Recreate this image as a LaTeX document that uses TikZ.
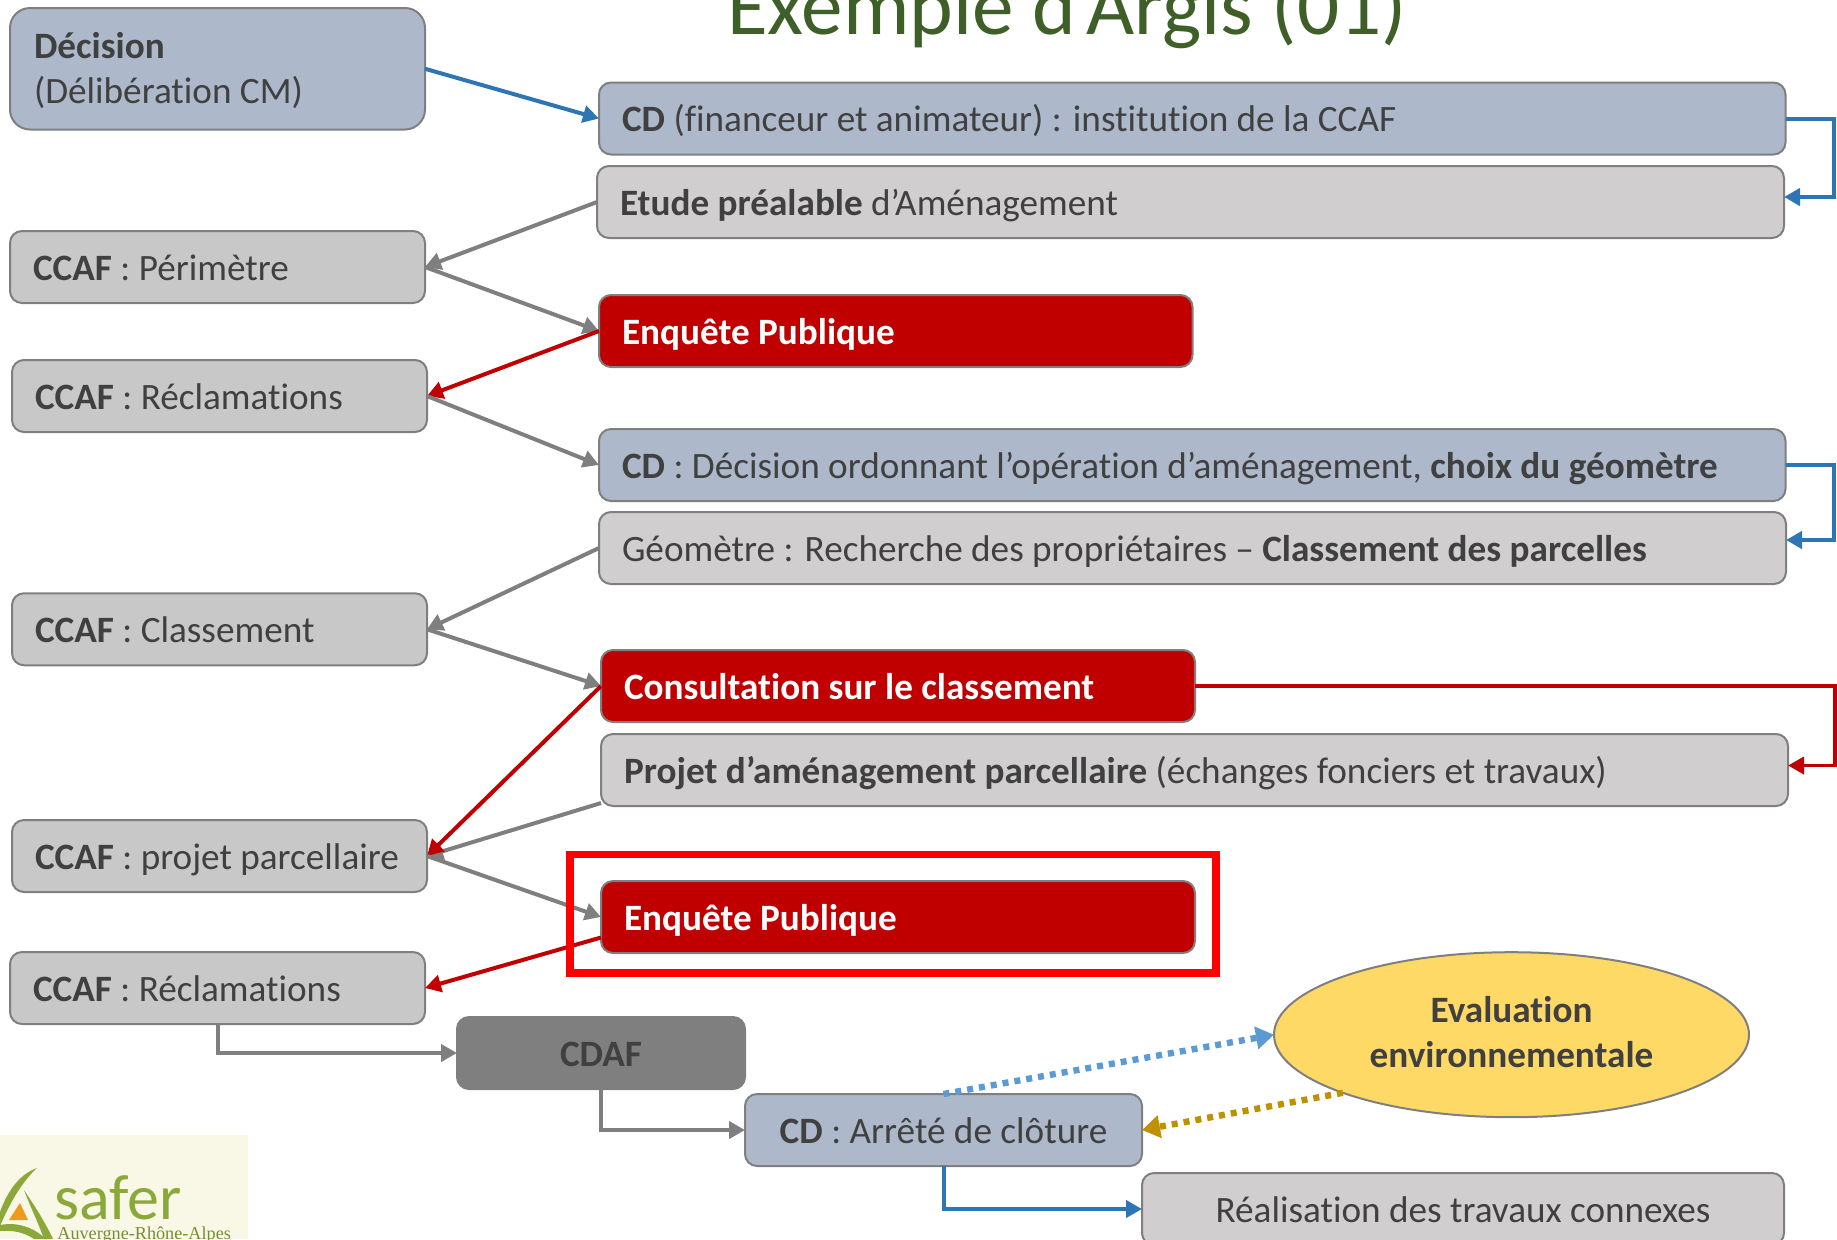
\documentclass[tikz,border=0pt]{standalone}
\usepackage{fontspec}
\setmainfont[Ligatures=NoCommon]{Carlito}
\newfontfamily\logofont{Liberation Serif}
\newfontfamily\logosans[Ligatures=NoCommon]{Carlito}
\usetikzlibrary{arrows.meta,shapes.geometric,calc}
\definecolor{txt}{HTML}{404040}
\definecolor{bluebox}{HTML}{ADB9CA}
\definecolor{greybox}{HTML}{C8C8C8}
\definecolor{greyboxb}{HTML}{D0CECE}
\definecolor{redbox}{HTML}{C00000}
\definecolor{edge}{HTML}{7F7F7F}
\definecolor{bluearrow}{HTML}{2E75B6}
\definecolor{dotblue}{HTML}{5B9BD5}
\definecolor{gold}{HTML}{BF9000}
\definecolor{yellowell}{HTML}{FFD966}
\definecolor{titlegreen}{HTML}{3F5F28}
\definecolor{logobg}{HTML}{F9F7E5}
\definecolor{logogreen}{HTML}{8BA83A}
\definecolor{logoorange}{HTML}{EE9A1E}
\newcommand\st{\rule[-4.5pt]{0pt}{22pt}}
\newcommand\boxfont{\fontsize{18.6}{22.7}\selectfont}
\newcommand\titlefont{\fontsize{41.6}{44}\selectfont}
\tikzset{
  basebox/.style={rectangle,draw=edge,line width=1pt,rounded corners=6pt,inner ysep=0pt,inner xsep=11.5pt,outer sep=0pt,
    minimum height=36pt,align=flush left,text=txt,font=\boxfont},
  bluefill/.style={basebox,fill=bluebox},
  greyfill/.style={basebox,fill=greybox},
  greyfillb/.style={basebox,fill=greyboxb},
  redfill/.style={basebox,fill=redbox,text=white},
  conn/.style={line width=2pt,-{Triangle[length=8pt,width=8.5pt]}},
  greyconn/.style={conn,draw=edge},
  redconn/.style={conn,draw=redbox},
  blueconn/.style={conn,draw=bluearrow},
  dotconn/.style={line width=3.2pt,dash pattern=on 3pt off 3pt,-{Triangle[length=9pt,width=11pt]}}
}
\begin{document}
\begin{tikzpicture}[x=0.5pt,y=-0.5pt]
\useasboundingbox (0,0) rectangle (1837,1239);
\clip (0,0) rectangle (1837,1239);
% logo
\fill[logobg] (0,1135) rectangle (248,1239);
\fill[logogreen] (0,1212) .. controls (8,1190) and (20,1174) .. (37,1168) .. controls (24,1180) and (12,1198) .. (0,1226) -- cycle;
\fill[logogreen] (24,1190) .. controls (34,1205) and (44,1220) .. (53,1239) -- (44,1239) .. controls (38,1222) and (30,1206) .. (24,1190) -- cycle;
\fill[logogreen] (0,1225) .. controls (16,1222) and (32,1226) .. (46,1239) -- (34,1239) .. controls (24,1232) and (12,1230) .. (0,1231) -- cycle;
\fill[logoorange] (9,1220) -- (20,1203) -- (28,1220) -- cycle;
\node[anchor=base west,inner sep=0pt,text=logogreen,font=\logosans\fontsize{32}{32}\selectfont] (logoa) at (54,1219) {safer};
\node[anchor=base west,inner sep=0pt,text=logogreen!85!black,font=\logofont\fontsize{9.1}{10}\selectfont] (logob) at (57,1239) {Auvergne-Rhône-Alpes};
% title
\node[anchor=base,inner sep=0pt,text=titlegreen,font=\titlefont] (title) at (1067,34) {Exemple d’Argis (01)};
% boxes
\node[bluefill,text width=183.5pt,inner xsep=12pt,minimum height=60.75pt,rounded corners=10pt] (dec) at (217.5,68.75) {\st\textbf{Décision}\\\rule[-5.5pt]{0pt}{23pt}(Délibération CM)};
\node[bluefill,text width=570.25pt] (cd1) at (1192.25,118.5) {\st\textbf{CD} (financeur et animateur) : institution de la CCAF};
\node[greyfillb,text width=570.5pt] (etu) at (1190.5,202) {\st\textbf{Etude préalable} d’Aménagement};
\node[greyfill,text width=184.5pt] (per) at (217.5,267) {\st\textbf{CCAF} : Périmètre};
\node[redfill,text width=273.75pt] (enqa) at (895.75,331) {\st\textbf{Enquête Publique}};
\node[greyfill,text width=184.5pt] (reca) at (219.5,396) {\st\textbf{CCAF} : Réclamations};
\node[bluefill,text width=570.25pt] (cd2) at (1192.25,465) {\st\textbf{CD} : Décision ordonnant l’opération d’aménagement, \textbf{choix du géomètre}};
\node[greyfillb,text width=570.5pt] (geo) at (1192.5,548) {\st Géomètre : Recherche des propriétaires – \textbf{Classement des parcelles}};
\node[greyfill,text width=184.5pt] (cla) at (219.5,629.25) {\st\textbf{CCAF} : Classement};
\node[redfill,text width=274pt] (con) at (898,686) {\st\textbf{Consultation sur le classement}};
\node[greyfillb,text width=570.5pt] (pro) at (1194.5,770) {\st\textbf{Projet d’aménagement parcellaire} (échanges fonciers et travaux)};
\node[greyfill,text width=184.5pt] (prp) at (219.5,856) {\st\textbf{CCAF} : projet parcellaire};
\node[redfill,text width=274pt] (enqb) at (898,917) {\st\textbf{Enquête Publique}};
\node[greyfill,text width=184.5pt] (recb) at (217.5,988) {\st\textbf{CCAF} : Réclamations};
\node[basebox,fill=edge,text width=121pt,align=flush center] (cdaf) at (601,1053) {\st\textbf{CDAF}};
\node[bluefill,text width=175.5pt,align=flush center] (cd3) at (943.5,1130) {\st\textbf{CD} : Arrêté de clôture};
\node[greyfillb,text width=298pt,align=flush center] (rea) at (1463,1209) {\st Réalisation des travaux connexes};
\node[ellipse,draw=edge,line width=1pt,fill=yellowell,inner sep=0pt,outer sep=0pt,minimum width=237.5pt,minimum height=82.5pt,align=flush center,text=txt,font=\boxfont] (ell) at (1511.5,1034.7) {\st\textbf{Evaluation}\\\rule[-7.3pt]{0pt}{20pt}\textbf{environnementale}};
% helper coordinates
\coordinate (ea) at (1834,118);
\coordinate (eb) at (1834,465);
\coordinate (ec) at (1835,686);
% connectors
\draw[blueconn] (dec.east) -- (cd1.west);
\draw[blueconn] (cd1.east) -- (cd1.east -| ea) |- ([yshift=2.5pt]etu.east);
\draw[greyconn] (etu.west) -- (per.east);
\draw[greyconn] (per.east) -- (enqa.west);
\draw[redconn] (enqa.west) -- (reca.east);
\draw[greyconn] (reca.east) -- (cd2.west);
\draw[blueconn] (cd2.east) -- (cd2.east -| eb) |- ([yshift=4pt]geo.east);
\draw[greyconn] (geo.west) -- (cla.east);
\draw[greyconn] (cla.east) -- (con.west);
\draw[redconn,line width=1.8pt] (con.east) -- (con.east -| ec) |- ([yshift=2.25pt]pro.east);
\draw[greyconn] ([yshift=1.5pt]pro.south west) -- (prp.east);
\draw[redconn] (con.west) -- (prp.east);
\draw[greyconn] (prp.east) -- (enqb.west);
\draw[redconn] ([yshift=7.75pt]enqb.south west) -- (recb.east);
\draw[greyconn] (recb.south) |- (cdaf.west);
\draw[greyconn] (cdaf.south) |- (cd3.west);
\draw[blueconn] (cd3.south) |- (rea.west);
\draw[dotconn,draw=dotblue] (cd3.north) -- (ell.west);
\draw[dotconn,draw=gold] (ell.199) -- (cd3.east);
% red frame
\node[rectangle,draw=red,line width=3.7pt,fill=none,inner sep=0pt,outer sep=0pt,minimum width=323pt,minimum height=59.25pt] (frame) at (893,913.75) {};
\end{tikzpicture}
\end{document}
